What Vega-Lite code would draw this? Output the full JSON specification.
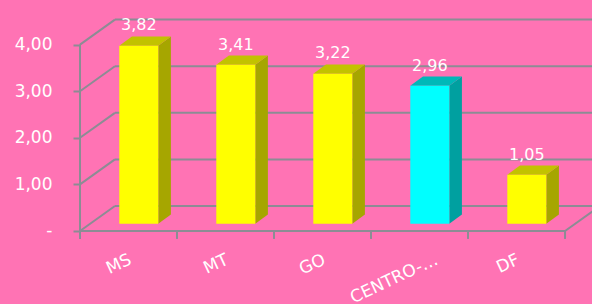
{
  "$schema": "https://vega.github.io/schema/vega-lite/v6.json",
  "width": 512,
  "height": 234,
  "autosize": {"type": "none"},
  "padding": {"left": 80, "top": 10, "right": 0, "bottom": 60},
  "background": "#FF73B4",
  "config": {"view": {"stroke": null}, "font": "DejaVu Sans"},
  "datasets": {
    "bars": [
      {"uf": "MS", "value": 3.82},
      {"uf": "MT", "value": 3.41},
      {"uf": "GO", "value": 3.22},
      {"uf": "CENTRO-OESTE", "value": 2.96},
      {"uf": "DF", "value": 1.05}
    ],
    "grid": [{"v": 0}, {"v": 1}, {"v": 2}, {"v": 3}, {"v": 4}],
    "one": [{}]
  },
  "layer": [
    {
      "data": {"name": "grid"},
      "transform": [{"calculate": "datum.v + 0.536", "as": "vb"}],
      "mark": {"type": "rule", "color": "#8C8C94", "strokeWidth": 2, "clip": true},
      "encoding": {
        "x": {"datum": 0.36, "type": "quantitative", "scale": {"domain": [0, 5.278], "nice": false, "zero": false}, "axis": null},
        "x2": {"datum": 5.36},
        "y": {"field": "vb", "type": "quantitative", "scale": {"domain": [-0.279, 4.7425], "nice": false, "zero": false},
          "axis": {"values": [0, 1, 2, 3, 4], "labelExpr": "datum.value == 0 ? '-' : replace(format(datum.value, '.2f'), '.', ',')", "title": null, "domain": false, "grid": false, "tickSize": 7, "tickColor": "#8C8C94", "tickWidth": 2, "labelColor": "#FFFFFF", "labelFontSize": 17, "labelFont": "DejaVu Sans", "labelPadding": 21, "encode": {"labels": {"update": {"dx": {"signal": "datum.value == 0 ? -10 : 0"}}}}}}
      }
    },
    {
      "data": {"name": "grid"},
      "transform": [{"calculate": "datum.v + 0.536", "as": "vb"}],
      "mark": {"type": "rule", "color": "#8C8C94", "strokeWidth": 2},
      "encoding": {
        "x": {"datum": 0, "type": "quantitative", "scale": {"domain": [0, 5.278], "nice": false, "zero": false}, "axis": null},
        "x2": {"datum": 0.36},
        "y": {"field": "v", "type": "quantitative", "scale": {"domain": [-0.279, 4.7425], "nice": false, "zero": false},
          "axis": {"values": [0, 1, 2, 3, 4], "labelExpr": "datum.value == 0 ? '-' : replace(format(datum.value, '.2f'), '.', ',')", "title": null, "domain": false, "grid": false, "tickSize": 7, "tickColor": "#8C8C94", "tickWidth": 2, "labelColor": "#FFFFFF", "labelFontSize": 17, "labelFont": "DejaVu Sans", "labelPadding": 21, "encode": {"labels": {"update": {"dx": {"signal": "datum.value == 0 ? -10 : 0"}}}}}},
        "y2": {"field": "vb"}
      }
    },
    {
      "data": {"name": "one"},
      "mark": {"type": "rule", "color": "#8C8C94", "strokeWidth": 2},
      "encoding": {
        "x": {"datum": 0, "type": "quantitative", "scale": {"domain": [0, 5.278], "nice": false, "zero": false}, "axis": null},
        "y": {"datum": -0.17, "type": "quantitative", "scale": {"domain": [-0.279, 4.7425], "nice": false, "zero": false},
          "axis": {"values": [0, 1, 2, 3, 4], "labelExpr": "datum.value == 0 ? '-' : replace(format(datum.value, '.2f'), '.', ',')", "title": null, "domain": false, "grid": false, "tickSize": 7, "tickColor": "#8C8C94", "tickWidth": 2, "labelColor": "#FFFFFF", "labelFontSize": 17, "labelFont": "DejaVu Sans", "labelPadding": 21, "encode": {"labels": {"update": {"dx": {"signal": "datum.value == 0 ? -10 : 0"}}}}}},
        "y2": {"datum": 4}
      }
    },
    {
      "data": {"name": "one"},
      "mark": {"type": "rule", "color": "#8C8C94", "strokeWidth": 2},
      "encoding": {
        "x": {"datum": 0, "type": "quantitative", "scale": {"domain": [0, 5.278], "nice": false, "zero": false}, "axis": null},
        "x2": {"datum": 5},
        "y": {"datum": 0, "type": "quantitative", "scale": {"domain": [-0.279, 4.7425], "nice": false, "zero": false},
          "axis": {"values": [0, 1, 2, 3, 4], "labelExpr": "datum.value == 0 ? '-' : replace(format(datum.value, '.2f'), '.', ',')", "title": null, "domain": false, "grid": false, "tickSize": 7, "tickColor": "#8C8C94", "tickWidth": 2, "labelColor": "#FFFFFF", "labelFontSize": 17, "labelFont": "DejaVu Sans", "labelPadding": 21, "encode": {"labels": {"update": {"dx": {"signal": "datum.value == 0 ? -10 : 0"}}}}}}
      }
    },
    {
      "data": {"name": "one"},
      "mark": {"type": "rule", "color": "#8C8C94", "strokeWidth": 2, "clip": true},
      "encoding": {
        "x": {"datum": 5, "type": "quantitative", "scale": {"domain": [0, 5.278], "nice": false, "zero": false}, "axis": null},
        "x2": {"datum": 5.36},
        "y": {"datum": 0, "type": "quantitative", "scale": {"domain": [-0.279, 4.7425], "nice": false, "zero": false},
          "axis": {"values": [0, 1, 2, 3, 4], "labelExpr": "datum.value == 0 ? '-' : replace(format(datum.value, '.2f'), '.', ',')", "title": null, "domain": false, "grid": false, "tickSize": 7, "tickColor": "#8C8C94", "tickWidth": 2, "labelColor": "#FFFFFF", "labelFontSize": 17, "labelFont": "DejaVu Sans", "labelPadding": 21, "encode": {"labels": {"update": {"dx": {"signal": "datum.value == 0 ? -10 : 0"}}}}}},
        "y2": {"datum": 0.536}
      }
    },
    {
      "data": {"name": "bars"},
      "transform": [{"window": [{"op": "row_number", "as": "i"}]}],
      "mark": {"type": "rule", "color": "#8C8C94", "strokeWidth": 2},
      "encoding": {
        "x": {"field": "i", "type": "quantitative", "scale": {"domain": [0, 5.278], "nice": false, "zero": false}, "axis": null},
        "y": {"datum": 0, "type": "quantitative", "scale": {"domain": [-0.279, 4.7425], "nice": false, "zero": false},
          "axis": {"values": [0, 1, 2, 3, 4], "labelExpr": "datum.value == 0 ? '-' : replace(format(datum.value, '.2f'), '.', ',')", "title": null, "domain": false, "grid": false, "tickSize": 7, "tickColor": "#8C8C94", "tickWidth": 2, "labelColor": "#FFFFFF", "labelFontSize": 17, "labelFont": "DejaVu Sans", "labelPadding": 21, "encode": {"labels": {"update": {"dx": {"signal": "datum.value == 0 ? -10 : 0"}}}}}},
        "y2": {"datum": -0.17}
      }
    },
    {
      "data": {"name": "bars"},
      "transform": [
        {"window": [{"op": "row_number", "as": "i"}]},
        {"calculate": "0", "as": "p0"},
        {"calculate": "1", "as": "p1"},
        {"fold": ["p0", "p1"], "as": ["k", "p"]},
        {"calculate": "datum.i - 0.193 + datum.p * 0.13", "as": "sx"},
        {"calculate": "0.155 + datum.p * 0.2", "as": "sy"},
        {"calculate": "datum.value + 0.155 + datum.p * 0.2", "as": "sy2"}
      ],
      "mark": {"type": "area", "orient": "vertical"},
      "encoding": {
        "x": {"field": "sx", "type": "quantitative", "scale": {"domain": [0, 5.278], "nice": false, "zero": false}, "axis": null},
        "y": {"field": "sy", "type": "quantitative", "scale": {"domain": [-0.279, 4.7425], "nice": false, "zero": false},
          "axis": {"values": [0, 1, 2, 3, 4], "labelExpr": "datum.value == 0 ? '-' : replace(format(datum.value, '.2f'), '.', ',')", "title": null, "domain": false, "grid": false, "tickSize": 7, "tickColor": "#8C8C94", "tickWidth": 2, "labelColor": "#FFFFFF", "labelFontSize": 17, "labelFont": "DejaVu Sans", "labelPadding": 21, "encode": {"labels": {"update": {"dx": {"signal": "datum.value == 0 ? -10 : 0"}}}}}},
        "y2": {"field": "sy2"},
        "detail": {"field": "uf"},
        "fill": {"condition": {"test": "datum.uf === 'CENTRO-OESTE'", "value": "#00A0A0"}, "value": "#A6A600"}
      }
    },
    {
      "data": {"name": "bars"},
      "transform": [
        {"window": [{"op": "row_number", "as": "i"}]},
        {"calculate": "0", "as": "q0"},
        {"calculate": "1", "as": "q1"},
        {"calculate": "2", "as": "q2"},
        {"calculate": "3", "as": "q3"},
        {"fold": ["q0", "q1", "q2", "q3"], "as": ["k", "p"]},
        {"calculate": "datum.i - 0.595 + (datum.p == 1 ? 0.13 : datum.p == 2 ? 0.402 : datum.p == 3 ? 0.532 : 0)", "as": "tx"},
        {"calculate": "datum.value + 0.155 + (datum.p == 3 ? 0.2 : 0)", "as": "ty"},
        {"calculate": "datum.value + 0.155 + (datum.p == 0 ? 0 : 0.2)", "as": "ty2"}
      ],
      "mark": {"type": "area", "orient": "vertical"},
      "encoding": {
        "x": {"field": "tx", "type": "quantitative", "scale": {"domain": [0, 5.278], "nice": false, "zero": false}, "axis": null},
        "y": {"field": "ty", "type": "quantitative", "scale": {"domain": [-0.279, 4.7425], "nice": false, "zero": false},
          "axis": {"values": [0, 1, 2, 3, 4], "labelExpr": "datum.value == 0 ? '-' : replace(format(datum.value, '.2f'), '.', ',')", "title": null, "domain": false, "grid": false, "tickSize": 7, "tickColor": "#8C8C94", "tickWidth": 2, "labelColor": "#FFFFFF", "labelFontSize": 17, "labelFont": "DejaVu Sans", "labelPadding": 21, "encode": {"labels": {"update": {"dx": {"signal": "datum.value == 0 ? -10 : 0"}}}}}},
        "y2": {"field": "ty2"},
        "detail": {"field": "uf"},
        "fill": {"condition": {"test": "datum.uf === 'CENTRO-OESTE'", "value": "#00B8B8"}, "value": "#C2C200"}
      }
    },
    {
      "data": {"name": "bars"},
      "transform": [
        {"window": [{"op": "row_number", "as": "i"}]},
        {"calculate": "datum.i - 0.595", "as": "x0"},
        {"calculate": "datum.i - 0.193", "as": "x1"},
        {"calculate": "0.155", "as": "yb"},
        {"calculate": "datum.value + 0.155", "as": "yt"}
      ],
      "mark": {"type": "rect"},
      "encoding": {
        "x": {"field": "x0", "type": "quantitative", "scale": {"domain": [0, 5.278], "nice": false, "zero": false}, "axis": null},
        "x2": {"field": "x1"},
        "y": {"field": "yb", "type": "quantitative", "scale": {"domain": [-0.279, 4.7425], "nice": false, "zero": false},
          "axis": {"values": [0, 1, 2, 3, 4], "labelExpr": "datum.value == 0 ? '-' : replace(format(datum.value, '.2f'), '.', ',')", "title": null, "domain": false, "grid": false, "tickSize": 7, "tickColor": "#8C8C94", "tickWidth": 2, "labelColor": "#FFFFFF", "labelFontSize": 17, "labelFont": "DejaVu Sans", "labelPadding": 21, "encode": {"labels": {"update": {"dx": {"signal": "datum.value == 0 ? -10 : 0"}}}}}},
        "y2": {"field": "yt"},
        "fill": {"condition": {"test": "datum.uf === 'CENTRO-OESTE'", "value": "#00FFFF"}, "value": "#FFFF00"}
      }
    },
    {
      "data": {"name": "bars"},
      "transform": [
        {"window": [{"op": "row_number", "as": "i"}]},
        {"calculate": "datum.i - 0.394", "as": "cu"},
        {"calculate": "datum.value + 0.355", "as": "tt"},
        {"calculate": "replace(format(datum.value, '.2f'), '.', ',')", "as": "lbl"}
      ],
      "mark": {"type": "text", "color": "#FFFFFF", "fontSize": 16, "font": "DejaVu Sans", "baseline": "alphabetic", "align": "center", "dy": -6},
      "encoding": {
        "x": {"field": "cu", "type": "quantitative", "scale": {"domain": [0, 5.278], "nice": false, "zero": false}, "axis": null},
        "y": {"field": "tt", "type": "quantitative", "scale": {"domain": [-0.279, 4.7425], "nice": false, "zero": false},
          "axis": {"values": [0, 1, 2, 3, 4], "labelExpr": "datum.value == 0 ? '-' : replace(format(datum.value, '.2f'), '.', ',')", "title": null, "domain": false, "grid": false, "tickSize": 7, "tickColor": "#8C8C94", "tickWidth": 2, "labelColor": "#FFFFFF", "labelFontSize": 17, "labelFont": "DejaVu Sans", "labelPadding": 21, "encode": {"labels": {"update": {"dx": {"signal": "datum.value == 0 ? -10 : 0"}}}}}},
        "text": {"field": "lbl"}
      }
    },
    {
      "data": {"name": "bars"},
      "transform": [
        {"window": [{"op": "row_number", "as": "i"}]},
        {"calculate": "datum.i - 0.48 + (length(datum.uf) > 8 ? 0.16 : 0)", "as": "xc"}
      ],
      "mark": {"type": "text", "color": "#FFFFFF", "fontSize": 17, "font": "DejaVu Sans", "angle": -25, "align": "right", "baseline": "middle", "limit": 96},
      "encoding": {
        "x": {"field": "xc", "type": "quantitative", "scale": {"domain": [0, 5.278], "nice": false, "zero": false}, "axis": null},
        "y": {"datum": -0.6, "type": "quantitative", "scale": {"domain": [-0.279, 4.7425], "nice": false, "zero": false},
          "axis": {"values": [0, 1, 2, 3, 4], "labelExpr": "datum.value == 0 ? '-' : replace(format(datum.value, '.2f'), '.', ',')", "title": null, "domain": false, "grid": false, "tickSize": 7, "tickColor": "#8C8C94", "tickWidth": 2, "labelColor": "#FFFFFF", "labelFontSize": 17, "labelFont": "DejaVu Sans", "labelPadding": 21, "encode": {"labels": {"update": {"dx": {"signal": "datum.value == 0 ? -10 : 0"}}}}}},
        "text": {"field": "uf"}
      }
    }
  ]
}
